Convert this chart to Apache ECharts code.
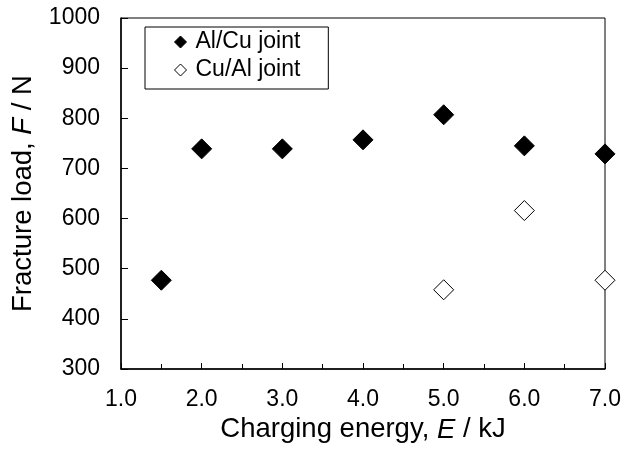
<!DOCTYPE html>
<html><head><meta charset="utf-8">
<script src="https://cdn.jsdelivr.net/npm/echarts@6/dist/echarts.min.js"></script>
<style>html,body{margin:0;padding:0;background:#fff}#c{width:624px;height:453px}</style>
</head><body><div id="c"></div>
<script>
const energyAlCu = [1.5, 2.0, 3.0, 4.0, 5.0, 6.0, 7.0];
const loadAlCu = [477, 739, 739, 757, 807, 745, 729];
const energyCuAl = [5.0, 6.0, 7.0];
const loadCuAl = [458, 616, 477];
const seriesNames = ['Al/Cu joint', 'Cu/Al joint'];

const font = 'Liberation Sans, Arial, sans-serif';
const chart = echarts.init(document.getElementById('c'));
chart.setOption({
  animation: false,
  backgroundColor: '#fff',
  grid: { left: 121, top: 18, right: 15, bottom: 84, show: true, borderColor: '#000', borderWidth: 1 },
  legend: {
    left: 145, top: 27, orient: 'vertical',
    borderColor: '#000', borderWidth: 1,
    padding: [3, 28, 7, 29],
    itemWidth: 12, itemHeight: 12, itemGap: 4,
    textStyle: { fontFamily: font, fontSize: 23, color: '#000', lineHeight: 24, padding: [0, 0, 0, 4] },
    data: [
      { name: seriesNames[0], icon: 'diamond', itemStyle: { color: '#000', borderColor: '#000', borderWidth: 1 } },
      { name: seriesNames[1], icon: 'diamond', itemStyle: { color: '#fff', borderColor: '#000', borderWidth: 1 } }
    ]
  },
  xAxis: {
    type: 'value', min: 1, max: 7, interval: 1,
    name: '{a|Charging energy, }{i|E}{a| / kJ}',
    nameLocation: 'middle', nameGap: 31,
    nameTextStyle: { rich: {
      a: { fontFamily: font, fontSize: 27.5, color: '#000' },
      i: { fontFamily: font, fontSize: 27.5, color: '#000', fontStyle: 'italic' } } },
    axisLine: { lineStyle: { color: '#000', width: 1.5 } },
    axisTick: { inside: true, length: 6, lineStyle: { color: '#000' } },
    minorTick: { show: true, splitNumber: 2, length: 5, lineStyle: { color: '#000' } },
    splitLine: { show: false },
    axisLabel: { fontFamily: font, fontSize: 23, color: '#000', margin: 19, formatter: v => v.toFixed(1) }
  },
  yAxis: {
    type: 'value', min: 300, max: 1000, interval: 100,
    name: '{a|Fracture load, }{i|F}{a| / N}',
    nameLocation: 'middle', nameGap: 84,
    nameTextStyle: { rich: {
      a: { fontFamily: font, fontSize: 27.5, color: '#000' },
      i: { fontFamily: font, fontSize: 27.5, color: '#000', fontStyle: 'italic' } } },
    axisLine: { show: true, lineStyle: { color: '#000', width: 1.5 } },
    axisTick: { inside: true, length: 7, lineStyle: { color: '#000' } },
    splitLine: { show: false },
    axisLabel: { fontFamily: font, fontSize: 23, color: '#000', margin: 21, formatter: v => String(v) }
  },
  series: [
    { name: seriesNames[0], type: 'scatter', symbol: 'diamond', symbolSize: 20, clip: false, z: 5,
      itemStyle: { color: '#000', borderColor: '#000', borderWidth: 1, opacity: 1 },
      data: energyAlCu.map((x, i) => [x, loadAlCu[i]]) },
    { name: seriesNames[1], type: 'scatter', symbol: 'diamond', symbolSize: 20, clip: false, z: 5,
      itemStyle: { color: '#fff', borderColor: '#000', borderWidth: 1, opacity: 1 },
      data: energyCuAl.map((x, i) => [x, loadCuAl[i]]) }
  ]
});
</script></body></html>
